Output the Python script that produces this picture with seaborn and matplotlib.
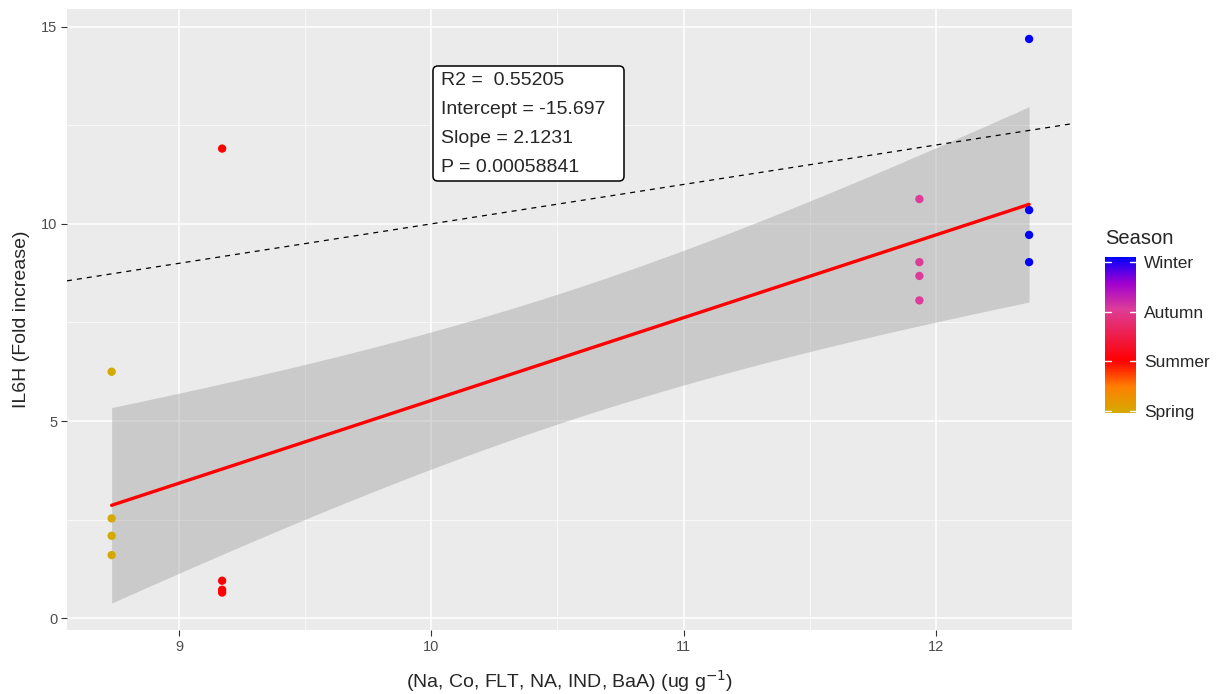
import numpy as np
import pandas as pd
import matplotlib
matplotlib.use("Agg")
import matplotlib.pyplot as plt
import seaborn as sns
from matplotlib.colors import LinearSegmentedColormap, Normalize
from matplotlib.cm import ScalarMappable
from matplotlib.patches import FancyBboxPatch

# data
season_names = ["Spring", "Summer", "Autumn", "Winter"]
season_code = [1] * 4 + [2] * 4 + [3] * 4 + [4] * 4
conc = [8.733] * 4 + [9.171] * 4 + [11.935] * 4 + [12.370] * 4
il6h = [6.25, 2.53, 2.09, 1.60,
        11.91, 0.95, 0.72, 0.65,
        10.63, 9.03, 8.68, 8.06,
        14.69, 10.35, 9.72, 9.03]
stats_text = "R2 =  0.55205\nIntercept = -15.697\nSlope = 2.1231\nP = 0.00058841"

df = pd.DataFrame({"conc": conc, "il6h": il6h, "season": season_code})

sns.set_theme(style="darkgrid")
plt.rcParams["font.family"] = ["Liberation Sans", "DejaVu Sans"]

cmap = LinearSegmentedColormap.from_list(
    "season", [(0.0, "#D4AA00"), (1/6, "#FF8000"), (1/3, "#FF0000"),
               (2/3, "#DD3C98"), (5/6, "#A000D0"), (1.0, "#0000FF")])
norm = Normalize(1, 4)

W, H = 1219, 694
fig = plt.figure(figsize=(W / 100, H / 100), dpi=100)
ax = fig.add_axes([67/W, 64/H, (1072-67)/W, (630-9)/H])
ax.set_facecolor("#EBEBEB")

# linear fit with 95% confidence band (like geom_smooth(method="lm"))
x = np.array(conc)
y = np.array(il6h)
slope, intercept = np.polyfit(x, y, 1)
n = len(x)
resid = y - (intercept + slope * x)
s = np.sqrt(np.sum(resid**2) / (n - 2))
sxx = np.sum((x - x.mean())**2)
xs = np.linspace(x.min(), x.max(), 80)
fit = intercept + slope * xs
se = s * np.sqrt(1/n + (xs - x.mean())**2 / sxx)
tval = 2.1448
ax.fill_between(xs, fit - tval * se, fit + tval * se, color="#999999", alpha=0.4, lw=0, zorder=2)
sns.lineplot(x=xs, y=fit, color="red", lw=2.4, ax=ax, zorder=3)

# 1:1 line
ax.axline((0, 0), slope=1, color="black", lw=0.9, ls=(0, (4, 4)), zorder=3)

sns.scatterplot(data=df, x="conc", y="il6h", hue="season", palette=cmap,
                hue_norm=norm, s=36, edgecolor="none", legend=False, ax=ax, zorder=4)

ax.set_xlim(8.556, 12.54)
ax.set_ylim(-0.3, 15.45)
ax.set_xticks([9, 10, 11, 12])
ax.set_yticks([0, 5, 10, 15])
ax.set_xticks([9.5, 10.5, 11.5], minor=True)
ax.set_yticks([2.5, 7.5, 12.5], minor=True)
ax.grid(which="major", color="white", lw=1.1)
ax.grid(which="minor", color="white", lw=0.5)
for sp in ax.spines.values():
    sp.set_visible(False)
ax.tick_params(which="major", length=4, width=0.8, color="#333333", labelsize=10.5,
               labelcolor="#4D4D4D", pad=3, bottom=True, left=True)
ax.tick_params(which="minor", length=0)
ax.set_xlabel("(Na, Co, FLT, NA, IND, BaA) (ug g$^{-1}$)", fontsize=14, labelpad=10)
ax.set_ylabel("IL6H (Fold increase)", fontsize=14, labelpad=8)

# stats label box
box = FancyBboxPatch((433/W, 1 - 181/H), 191/W, 115/H,
                     boxstyle="round,pad=0,rounding_size=0.004", mutation_aspect=W/H,
                     transform=fig.transFigure, fc="white", ec="black", lw=1.1, zorder=5)
fig.patches.append(box)
fig.text(441/W, 1 - 124/H, stats_text, fontsize=14, linespacing=1.9, va="center",
         ha="left", zorder=6)

# colourbar legend (bar runs a little past the end ticks, as in ggplot)
cax = fig.add_axes([1105/W, (H-413)/H, 31/W, 156/H])
cb = fig.colorbar(ScalarMappable(norm=Normalize(0.96, 4.1), cmap=cmap), cax=cax)
cb.outline.set_visible(False)
cb.set_ticks([1, 2, 3, 4])
cb.set_ticklabels(season_names)
cax.tick_params(length=0, labelsize=12.5, pad=6)
for v in [1, 2, 3, 4]:
    cax.plot([0, 0.2], [v, v], color="white", lw=1, transform=cax.get_yaxis_transform())
    cax.plot([0.8, 1], [v, v], color="white", lw=1, transform=cax.get_yaxis_transform())
fig.text(1105/W, 1 - 239/H, "Season", fontsize=14.5, va="center", ha="left")

fig.savefig("out.png", dpi=100)
